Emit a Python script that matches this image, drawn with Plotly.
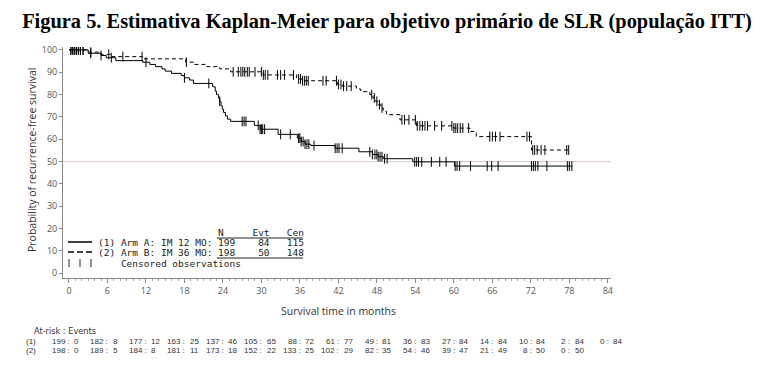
import numpy as np
import plotly.graph_objects as go

# ---------------- data ----------------
title_text = "Figura 5. Estimativa Kaplan-Meier para objetivo primário de SLR (população ITT)"

# Arm A (IM 12 MO) – KM step curve (time in months, survival %)
armA_t = [0, 3.0, 5.0, 5.8, 7.3, 11.5, 12.6, 13.5, 14.5, 15.0, 16.0, 17.5, 18.0, 18.8, 19.4,
          22.4, 22.8, 23.0, 23.3, 23.5, 23.7, 23.9, 24.1, 24.4, 24.7, 25.2,
          28.9, 29.8, 32.6, 35.6, 36.2, 36.8, 37.7, 41.5, 45.2, 47.3, 48.2, 49.0, 53.6, 60.1, 78.5]
armA_s = [100, 98.5, 97.5, 96.5, 95.2, 94.5, 93.5, 92.5, 91.5, 90.5, 89.5, 88.5, 87.5, 86.5, 85.0,
          83.5, 81.5, 80.0, 78.5, 77.0, 75.0, 73.5, 72.0, 70.5, 69.0, 68.0,
          66.2, 64.5, 62.2, 60.5, 59.0, 57.8, 57.2, 56.0, 54.4, 53.2, 52.2, 51.3, 49.9, 48.0, 48.0]

# Arm B (IM 36 MO)
armB_t = [0, 3.0, 5.0, 6.5, 11.5, 18.2, 19.5, 21.5, 23.5, 25.2, 30.3, 35.5, 36.3, 41.9, 42.6,
          44.8, 45.5, 46.9, 47.4, 47.8, 48.2, 48.6, 49.0, 49.5, 51.6, 54.2, 60.0, 62.5, 63.5, 72.1, 78.0]
armB_s = [100, 99.0, 98.0, 97.0, 96.0, 94.5, 93.5, 92.5, 91.5, 90.2, 88.8, 87.0, 86.2, 84.5, 83.8,
          82.5, 81.3, 80.0, 78.5, 77.0, 75.5, 74.0, 72.5, 71.0, 68.7, 66.0, 65.0, 63.5, 61.2, 55.2, 55.2]

censA = [0.3, 0.6, 0.9, 1.2, 1.5, 1.8, 2.2, 3.4, 5.0, 6.6, 12.0, 18.0, 21.8, 23.5, 27.0, 27.3, 27.6,
         29.5, 29.8, 30.0, 30.2, 30.5, 33.0, 34.5, 35.8, 36.0, 36.2, 36.5, 36.8, 37.1, 37.4, 38.2,
         41.5, 41.8, 42.1, 42.6, 46.9, 47.3, 47.7, 48.0, 48.2, 48.5, 48.8, 49.2, 49.6, 53.9, 54.2,
         54.5, 55.0, 56.5, 57.8, 58.8, 60.2, 60.5, 60.9, 62.6, 65.2, 65.9, 66.9, 72.1, 72.4, 72.7,
         73.1, 74.5, 77.7, 78.0, 78.4]
censB = [0.3, 0.6, 0.9, 1.2, 1.5, 1.8, 2.2, 3.4, 6.2, 8.4, 11.4, 18.3, 25.6, 26.4, 26.8, 27.1, 27.4,
         27.8, 28.1, 29.0, 30.0, 30.3, 30.6, 31.0, 32.5, 33.0, 33.6, 35.0, 35.8, 36.1, 36.4, 36.7,
         37.0, 37.3, 39.6, 40.1, 41.7, 42.0, 42.4, 42.8, 43.3, 44.0, 47.2, 47.6, 48.0, 48.4, 48.8,
         51.9, 52.3, 53.0, 54.0, 54.3, 54.7, 55.1, 55.5, 55.9, 57.0, 58.1, 59.7, 60.0, 60.3, 60.6,
         61.0, 61.4, 62.3, 65.6, 66.0, 66.5, 67.2, 71.4, 71.8, 72.3, 72.6, 73.0, 73.6, 74.2, 77.6, 77.9]

x_ticks = list(range(0, 85, 6))
y_ticks = list(range(0, 101, 10))

legend_rows = ["(1) Arm A: IM 12 MO:", "(2) Arm B: IM 36 MO:"]
legend_N = [199, 198]
legend_Evt = [84, 50]
legend_Cen = [115, 148]

risk_times = list(range(0, 85, 6))
riskA_n = [199, 182, 177, 163, 137, 105, 88, 61, 49, 36, 27, 14, 10, 2, 0]
riskA_e = [0, 8, 12, 25, 46, 65, 72, 77, 81, 83, 84, 84, 84, 84, 84]
riskB_n = [198, 189, 184, 181, 173, 152, 133, 102, 82, 54, 39, 21, 8, 0]
riskB_e = [0, 5, 8, 11, 18, 22, 25, 29, 35, 46, 47, 49, 50, 50]

# ---------------- helpers ----------------
def step_value(ts, ss, t):
    i = np.searchsorted(np.array(ts), t, side="right") - 1
    return ss[max(i, 0)]

L, R, T, B = 63, 611, 47, 278
W, H = 774, 369
def pxx(x):
    return (x - L) / (R - L)
def pyy(y):
    return (B - y) / (B - T)

NB = "\u00a0"
def nb(s):
    return s.replace(" ", NB)

fig = go.Figure()

fig.add_trace(go.Scatter(x=armA_t, y=armA_s, mode="lines", line=dict(color="black", width=1, shape="hv"),
                         showlegend=False, hoverinfo="skip"))
fig.add_trace(go.Scatter(x=armB_t, y=armB_s, mode="lines",
                         line=dict(color="black", width=1, shape="hv", dash="4px,3px"),
                         showlegend=False, hoverinfo="skip"))
fig.add_trace(go.Scatter(x=censA, y=[step_value(armA_t, armA_s, t) for t in censA], mode="markers",
                         marker=dict(symbol="line-ns", size=7, line=dict(color="black", width=1)),
                         showlegend=False, hoverinfo="skip"))
fig.add_trace(go.Scatter(x=censB, y=[step_value(armB_t, armB_s, t) for t in censB], mode="markers",
                         marker=dict(symbol="line-ns", size=7, line=dict(color="black", width=1)),
                         showlegend=False, hoverinfo="skip"))

shapes = []
shapes.append(dict(type="line", xref="paper", x0=0, x1=1, yref="y", y0=50, y1=50,
                   line=dict(color="#dccaca", width=1), layer="below"))
# legend samples
def pline(x0, x1, y0, y1, **line):
    shapes.append(dict(type="line", xref="paper", yref="paper", x0=pxx(x0), x1=pxx(x1),
                       y0=pyy(y0), y1=pyy(y1), line=line))
pline(68, 92, 242, 242, color="black", width=1.5)
pline(68, 92, 252, 252, color="black", width=1.5, dash="6px,3px")
pline(217, 303, 238, 238, color="#222", width=1)
pline(217, 303, 258, 258, color="#222", width=1)
for xc in (69, 80, 91):
    pline(xc, xc, 259, 267, color="#222", width=1)

ann = []
mono = dict(family="DejaVu Sans Mono", size=9.5, color="#222")
def add_text(x, y, text, font, xanchor="left", **kw):
    ann.append(dict(xref="paper", yref="paper", x=pxx(x), y=pyy(y), text=text, showarrow=False,
                    xanchor=xanchor, yanchor="middle", font=font, borderpad=0, **kw))

add_text(97, 232.5, nb(" " * 21 + "N" + " " * 5 + "Evt" + " " * 3 + "Cen"), mono)
for i, lab in enumerate(legend_rows):
    row = f"{lab} {legend_N[i]:<3} {legend_Evt[i]:>5} {legend_Cen[i]:>5}"
    add_text(97, 242.5 + 10 * i, nb(row), mono)
add_text(97, 263, nb("    Censored observations"), mono)

# axis titles
tfont = dict(family="Open Sans", size=10.5, color="#333")
add_text(338, 311, "Survival time in months", tfont, xanchor="center")
add_text(32, 160, "Probability of recurrence-free survival", tfont, xanchor="center", textangle=-90)

# at-risk table
rfont = dict(family="Liberation Sans", size=8, color="#333")
add_text(33, 331, nb("At-risk : Events"), dict(family="DejaVu Sans", size=8.2, color="#333"))
add_text(25, 341, "(1)", rfont)
add_text(25, 350, "(2)", rfont)
for rowy, ns, es in [(341, riskA_n, riskA_e), (350, riskB_n, riskB_e)]:
    for t, n, e in zip(risk_times, ns, es):
        ann.append(dict(xref="x", yref="paper", x=t, y=pyy(rowy), text=nb(f"{n} :"), showarrow=False,
                        xanchor="right", yanchor="middle", xshift=2, font=rfont, borderpad=0))
        ann.append(dict(xref="x", yref="paper", x=t, y=pyy(rowy), text=f"{e}", showarrow=False,
                        xanchor="left", yanchor="middle", xshift=4.5, font=rfont, borderpad=0))

fig.update_layout(
    width=W, height=H, autosize=False,
    margin=dict(l=L, r=W - R, t=T, b=H - B, pad=0),
    paper_bgcolor="white", plot_bgcolor="white",
    title=dict(text=title_text, xref="container", x=0.5, xanchor="center",
               yref="container", y=1 - 21 / H, yanchor="middle",
               font=dict(family="Liberation Serif", size=20.4, color="black", weight="bold")),
    shapes=shapes, annotations=ann,
    xaxis=dict(range=[-0.93, 84.5], tickvals=x_ticks, ticks="outside", ticklen=4, tickcolor="#888",
               showline=True, linecolor="#888", linewidth=1, showgrid=False, zeroline=False,
               tickfont=dict(family="Open Sans", size=9, color="#555"),
               minor=dict(dtick=1, tick0=0, ticks="outside", ticklen=2, tickcolor="#aaa")),
    yaxis=dict(range=[-2.1, 101.3], tickvals=y_ticks, ticks="outside", ticklen=3, tickcolor="#888",
               showline=True, linecolor="#888", linewidth=1, showgrid=False, zeroline=False,
               tickfont=dict(family="Open Sans", size=9, color="#555")),
)

fig.write_html("out.html", config={"displayModeBar": False},
               post_script="document.body.style.margin='0px';")
